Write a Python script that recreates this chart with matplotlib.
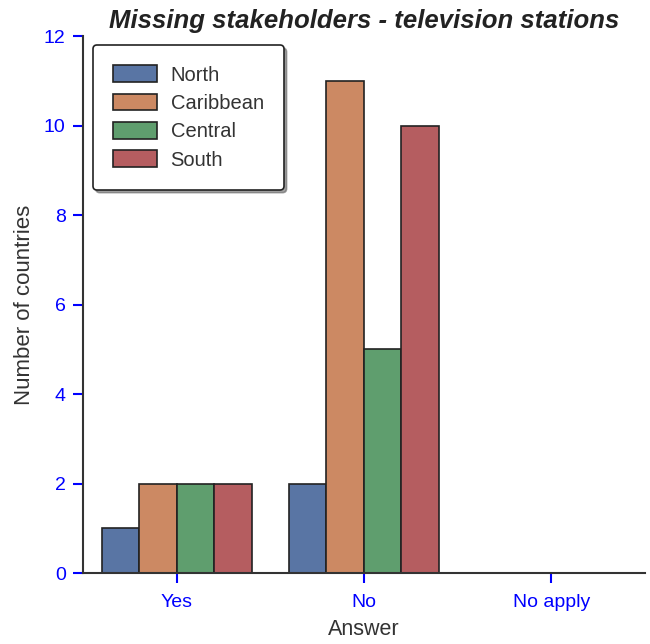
import matplotlib
matplotlib.use("Agg")
import matplotlib.pyplot as plt
import numpy as np

plt.rcParams['font.family'] = ['Liberation Sans', 'DejaVu Sans']

categories = ["Yes", "No", "No apply"]
regions = ["North", "Caribbean", "Central", "South"]
north = [1, 2, 0]
caribbean = [2, 11, 0]
central = [2, 5, 0]
south = [2, 10, 0]
series = [north, caribbean, central, south]
colors = ["#5975a4", "#cc8963", "#5f9e6e", "#b55d60"]

fig = plt.figure(figsize=(6.5, 6.44), dpi=100)
ax = fig.add_axes([0.1277, 0.1102, 0.8643, 0.8338])

x = np.arange(len(categories))
w = 0.2
for i, (name, vals) in enumerate(zip(regions, series)):
    ax.bar(x - 0.4 + w * (i + 0.5), vals, width=w, color=colors[i],
           edgecolor="#222222", linewidth=1.2, label=name)

ax.set_xlim(-0.5, 2.5)
ax.set_ylim(0, 12)
ax.set_xticks(x)
ax.set_xticklabels(categories)
ax.set_yticks(range(0, 13, 2))
ax.tick_params(axis='both', colors='blue', labelsize=14, width=1.5, length=7)
ax.tick_params(axis='y', pad=5.5)
ax.tick_params(axis='x', pad=8)
for s in ['top', 'right']:
    ax.spines[s].set_visible(False)
for s in ['left', 'bottom']:
    ax.spines[s].set_color('#333333')
    ax.spines[s].set_linewidth(1.5)

ax.set_xlabel("Answer", fontsize=15.5, color='#333333', labelpad=6)
ax.set_ylabel("Number of countries", fontsize=16, color='#333333', labelpad=6.5)
ax.set_title("Missing stakeholders - television stations", fontsize=18.5,
             fontweight='bold', fontstyle='italic', color='#222222', pad=6)

leg = ax.legend(loc='upper left', fontsize=14.5, shadow=True, fancybox=True,
                frameon=True, borderpad=1.0, labelspacing=0.45, handlelength=2.2,
                handleheight=0.9, handletextpad=0.65, borderaxespad=0,
                bbox_to_anchor=(0.0178, 0.983))
leg.get_frame().set_edgecolor('#222222')
leg.get_frame().set_linewidth(1.2)
for t in leg.get_texts():
    t.set_color('#333333')

fig.savefig("out.png", dpi=100)
